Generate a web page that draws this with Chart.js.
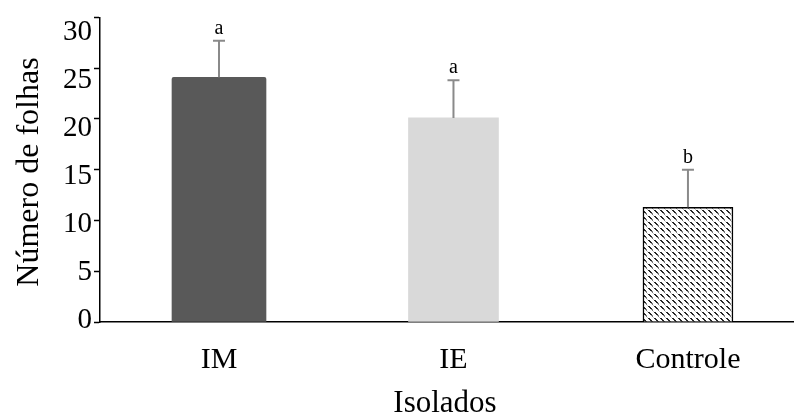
<!DOCTYPE html>
<html>
<head>
<meta charset="utf-8">
<script src="https://cdn.jsdelivr.net/npm/chart.js@4/dist/chart.umd.min.js"></script>
<style>
  html, body { margin: 0; padding: 0; background: #fff; }
  #wrap { width: 795px; height: 419px; position: relative; }
</style>
</head>
<body>
<div id="wrap"><canvas id="c" width="795" height="419"></canvas></div>
<script>
// Leaf count per isolate (mean, error and significance letter)
const categories = ['IM', 'IE', 'Controle'];
const means = [24.1, 20.1, 11.3];
const errors = [3.6, 3.7, 3.7];
const letters = ['a', 'a', 'b'];
const yTicks = [0, 5, 10, 15, 20, 25, 30];
const xTitle = 'Isolados';
const yTitle = 'Número de folhas';

const SERIF = '"Liberation Serif", "Times New Roman", serif';

// Diagonal dotted fill for the control bar
function makePattern() {
  const t = document.createElement('canvas');
  t.width = 6; t.height = 6;
  const g = t.getContext('2d');
  g.fillStyle = '#ffffff';
  g.fillRect(0, 0, 6, 6);
  g.fillStyle = '#262626';
  g.fillRect(0, 0, 2, 1);
  g.fillRect(1, 1, 2, 1);
  g.fillRect(2, 2, 2, 1);
  g.fillStyle = '#7a7a7a';
  g.fillRect(3, 3, 2, 1);
  g.fillRect(4, 4, 1, 1);
  g.fillStyle = '#c4c4c4';
  g.fillRect(5, 5, 1, 1);
  return g.createPattern(t, 'repeat');
}

const fills = ['#595959', '#d9d9d9', makePattern()];
const borders = ['#595959', '#d9d9d9', '#000000'];
const borderWidths = [0, 0, 1.5];
const thickness = [94, 90, 90];

const datasets = categories.map((c, i) => ({
  label: c,
  data: [{ x: i, y: means[i] }],
  backgroundColor: fills[i],
  borderColor: borders[i],
  borderWidth: borderWidths[i],
  borderSkipped: 'bottom',
  borderRadius: i === 0 ? 2 : 0,
  barThickness: thickness[i],
  grouped: false
}));

const extras = {
  id: 'extras',
  afterDatasetsDraw(chart) {
    const { ctx, scales } = chart;
    const xs = scales.x, ys = scales.y;
    ctx.save();
    categories.forEach((c, i) => {
      const px = xs.getPixelForValue(i);
      const top = ys.getPixelForValue(means[i]);
      const hi = ys.getPixelForValue(means[i] + errors[i]);
      ctx.strokeStyle = '#8a8a8a';
      ctx.lineWidth = 2;
      ctx.beginPath();
      ctx.moveTo(px, top);
      ctx.lineTo(px, hi);
      ctx.moveTo(px - 6, hi);
      ctx.lineTo(px + 6, hi);
      ctx.stroke();
      ctx.fillStyle = '#000';
      ctx.font = '20px ' + SERIF;
      ctx.textAlign = 'center';
      ctx.textBaseline = 'alphabetic';
      ctx.fillText(letters[i], px, hi - 7);
    });
    // axis titles
    ctx.fillStyle = '#000';
    ctx.font = '31px ' + SERIF;
    ctx.textAlign = 'center';
    ctx.textBaseline = 'middle';
    ctx.fillText(xTitle, 445, 404);
    ctx.font = '32px ' + SERIF;
    ctx.translate(30, 172);
    ctx.rotate(-Math.PI / 2);
    ctx.fillText(yTitle, 0, 0);
    ctx.restore();
  }
};

new Chart(document.getElementById('c'), {
  type: 'bar',
  data: { datasets },
  options: {
    responsive: false,
    animation: false,
    layout: { padding: { left: 0, right: 2, top: 16, bottom: 0 } },
    plugins: { legend: { display: false }, tooltip: { enabled: false } },
    scales: {
      x: {
        type: 'linear',
        offset: false,
        min: -0.5075,
        max: 2.448,
        afterBuildTicks(scale) {
          scale.ticks = categories.map((c, i) => ({ value: i }));
        },
        afterFit(scale) { scale.height = 97; },
        grid: { display: true, drawOnChartArea: false, drawTicks: false },
        border: { display: true, color: '#000', width: 1.5 },
        ticks: {
          callback: (v) => categories[v],
          color: '#000',
          padding: 20,
          autoSkip: false,
          maxRotation: 0,
          font: { family: SERIF, size: 30 }
        }
      },
      // value axis: line and tick marks
      y: {
        position: 'left',
        weight: 0,
        min: 0,
        max: 30,
        afterBuildTicks(scale) {
          scale.ticks = yTicks.map(v => ({ value: v }));
        },
        afterFit(scale) { scale.width = 8; },
        grid: { display: true, drawOnChartArea: false, drawTicks: true, tickLength: 6, color: '#000', tickWidth: 1.5 },
        border: { display: true, color: '#000', width: 1.5 },
        ticks: { display: false }
      },
      // tick labels, on a slightly tighter spacing than the marks
      yLabels: {
        position: 'left',
        weight: 1,
        min: -0.21,
        max: 31.56,
        afterBuildTicks(scale) {
          scale.ticks = yTicks.map(v => ({ value: v }));
        },
        afterFit(scale) { scale.width = 92; },
        grid: { display: false, drawTicks: false, tickLength: 0 },
        border: { display: false },
        ticks: {
          color: '#000',
          padding: 0,
          font: { family: SERIF, size: 29 }
        }
      }
    }
  },
  plugins: [extras]
});
</script>
</body>
</html>
